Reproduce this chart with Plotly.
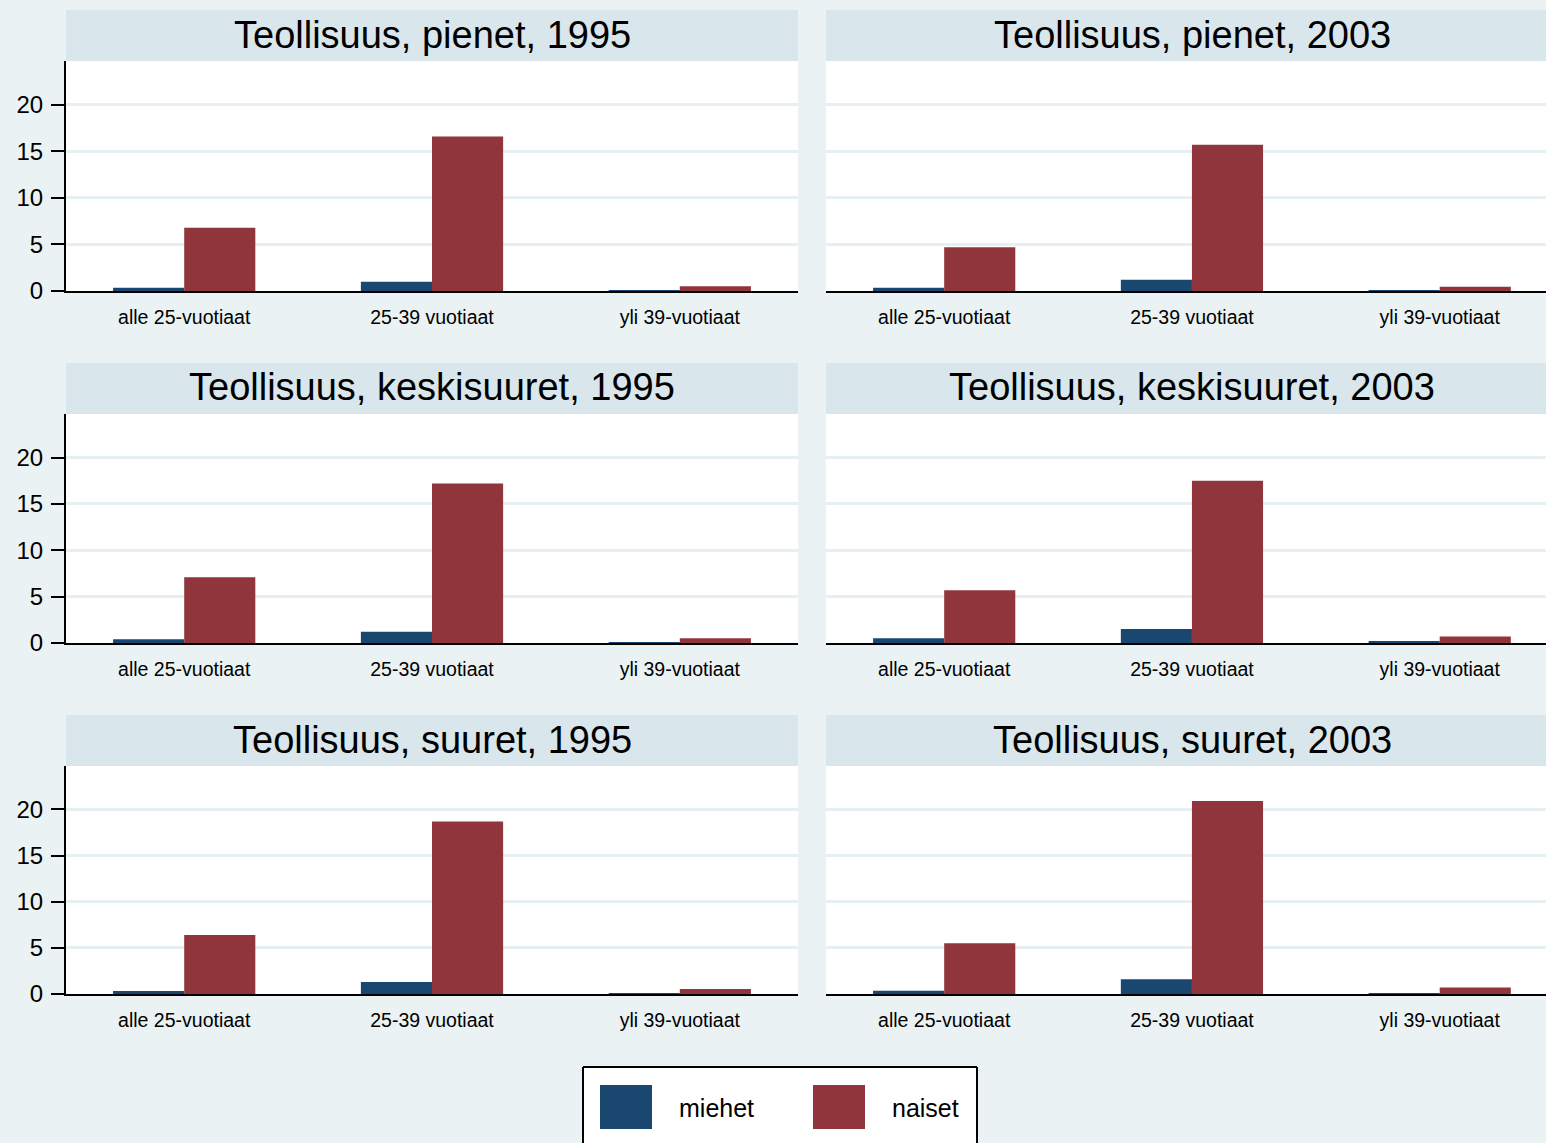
import plotly.graph_objects as go

W = 1546
REF_H = 1143          # height of the reference picture
H = 1156              # figure height (the capture is squeezed vertically)

categories = ["alle 25-vuotiaat", "25-39 vuotiaat", "yli 39-vuotiaat"]
series_names = ["miehet", "naiset"]
panel_titles = [
    "Teollisuus, pienet, 1995", "Teollisuus, pienet, 2003",
    "Teollisuus, keskisuuret, 1995", "Teollisuus, keskisuuret, 2003",
    "Teollisuus, suuret, 1995", "Teollisuus, suuret, 2003",
]
miehet = [
    [0.35, 1.0, 0.1],
    [0.35, 1.2, 0.1],
    [0.4, 1.2, 0.1],
    [0.5, 1.5, 0.15],
    [0.33, 1.3, 0.08],
    [0.35, 1.6, 0.1],
]
naiset = [
    [6.8, 16.6, 0.5],
    [4.7, 15.7, 0.45],
    [7.1, 17.2, 0.5],
    [5.7, 17.5, 0.7],
    [6.4, 18.7, 0.55],
    [5.5, 20.9, 0.7],
]
y_ticks = [0, 5, 10, 15, 20]

BG = "#EAF2F3"
STRIP = "#D9E6EB"
GRID = "#E6EFF2"
NAVY = "#1A476F"
MAROON = "#90353B"
FONT = "Liberation Sans, Arial, sans-serif"

def px(x):
    return x / W

def py(y):
    return 1 - y / REF_H

col_x = [(66, 798), (826, 1546)]
rows = [(10, 61, 291), (363, 414, 643), (715, 766, 994)]
x_ranges = [[-0.477, 2.477], [-0.477, 2.429]]

fig = go.Figure()
layout = dict(
    width=W, height=H,
    margin=dict(l=0, r=0, t=0, b=0),
    paper_bgcolor=BG, plot_bgcolor="white",
    barmode="group", bargap=0.426, bargroupgap=0,
    showlegend=False,
    font=dict(family=FONT, color="black"),
)
shapes = []
annotations = []

for i in range(6):
    r, c = divmod(i, 2)
    n = i + 1
    xa = "x" if n == 1 else f"x{n}"
    ya = "y" if n == 1 else f"y{n}"
    st, top, bot = rows[r]
    x0, x1 = col_x[c]
    fig.add_trace(go.Bar(x=categories, y=miehet[i], name=series_names[0],
                         marker=dict(color=NAVY, line=dict(width=0)),
                         xaxis=xa, yaxis=ya, offsetgroup="m"))
    fig.add_trace(go.Bar(x=categories, y=naiset[i], name=series_names[1],
                         marker=dict(color=MAROON, line=dict(width=0)),
                         xaxis=xa, yaxis=ya, offsetgroup="n"))
    layout["xaxis" if n == 1 else f"xaxis{n}"] = dict(
        domain=[px(x0), px(x1)], anchor=ya, type="category",
        range=x_ranges[c], showline=True, linecolor="black", linewidth=2,
        ticks="outside", ticklen=8, tickcolor="rgba(0,0,0,0)",
        tickfont=dict(size=19.5, family=FONT), showgrid=False, zeroline=False,
        fixedrange=True,
    )
    yax = dict(
        domain=[py(bot), py(top)], anchor=xa, range=[0, 24.7],
        tickvals=y_ticks, showgrid=True, gridcolor=GRID, gridwidth=3,
        zeroline=False, fixedrange=True,
    )
    if c == 0:
        yax.update(showline=True, linecolor="black", linewidth=2,
                   ticks="outside", ticklen=13, tickwidth=2, tickcolor="black",
                   ticklabelstandoff=3,
                   tickfont=dict(size=24, family=FONT), showticklabels=True)
    else:
        yax.update(showline=False, ticks="", showticklabels=False)
    layout["yaxis" if n == 1 else f"yaxis{n}"] = yax

    shapes.append(dict(type="rect", xref="paper", yref="paper",
                       x0=px(x0), x1=px(x1), y0=py(top), y1=py(st),
                       fillcolor=STRIP, line=dict(width=0), layer="below"))
    annotations.append(dict(text=panel_titles[i], xref="paper", yref="paper",
                            x=px(x0 + 366), y=py((st + top) / 2 - 1),
                            xanchor="center", yanchor="middle", showarrow=False,
                            font=dict(size=38, family=FONT, color="black")))

# legend box (bottom edge is cut off by the picture)
LX0, LX1, LY0 = 583, 977, 1067
shapes.append(dict(type="rect", xref="paper", yref="paper",
                   x0=px(LX0), x1=px(LX1), y0=0, y1=py(LY0),
                   fillcolor="white", line=dict(width=0)))
for (ax0, ay0, ax1, ay1) in [(LX0, LY0, LX1, LY0), (LX0, LY0, LX0, REF_H),
                             (LX1, LY0, LX1, REF_H)]:
    shapes.append(dict(type="line", xref="paper", yref="paper",
                       x0=px(ax0), y0=py(ay0), x1=px(ax1), y1=py(ay1),
                       line=dict(color="black", width=2)))
for (kx0, kx1, col, tx, name) in [(600, 652, NAVY, 677, series_names[0]),
                                  (813, 865, MAROON, 890, series_names[1])]:
    shapes.append(dict(type="rect", xref="paper", yref="paper",
                       x0=px(kx0), x1=px(kx1), y0=py(1129), y1=py(1085),
                       fillcolor=col, line=dict(width=0)))
    annotations.append(dict(text=name, xref="paper", yref="paper",
                            x=px(tx), y=py(1108), xanchor="left",
                            yanchor="middle", showarrow=False,
                            font=dict(size=25, family=FONT, color="black")))

layout["shapes"] = shapes
layout["annotations"] = annotations
fig.update_layout(**layout)
fig.write_html(
    "out.html",
    config={"displayModeBar": False},
    post_script=(
        "document.documentElement.style.margin='0';"
        "document.documentElement.style.overflow='hidden';"
        "document.body.style.margin='0';"
        "document.body.style.overflow='hidden';"
        "document.body.style.background='%s';" % BG
    ),
)
